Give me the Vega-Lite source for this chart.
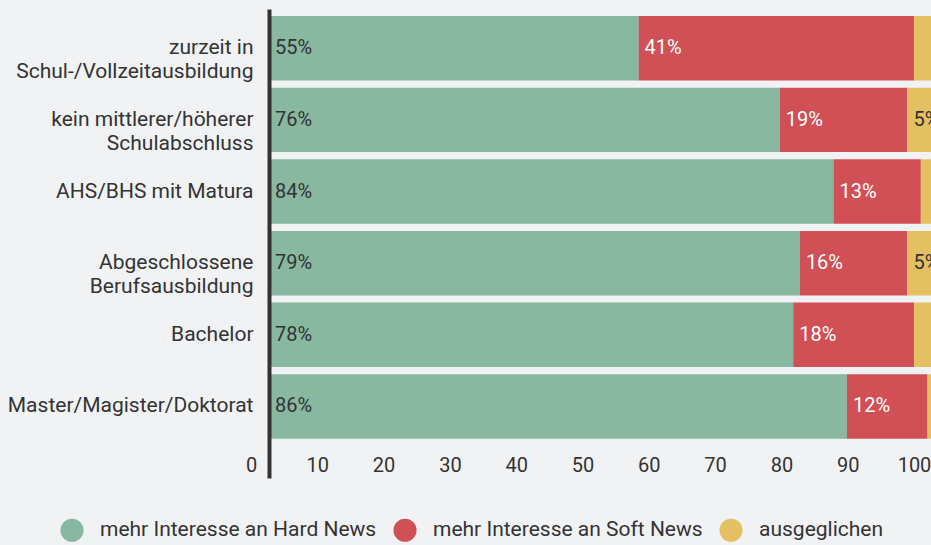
{
  "$schema": "https://vega.github.io/schema/vega-lite/v6.json",
  "width": 662,
  "height": 469,
  "autosize": "none",
  "padding": {"left": 269, "top": 9, "right": 0, "bottom": 67},
  "background": "#f1f2f4",
  "config": {"view": {"stroke": null}, "font": "Roboto"},
  "data": {
    "values": [
      {"cat": "zurzeit in\nSchul-/Vollzeitausbildung", "series": "mehr Interesse an Hard News", "ord": 1, "value": 55},
      {"cat": "zurzeit in\nSchul-/Vollzeitausbildung", "series": "mehr Interesse an Soft News", "ord": 2, "value": 41},
      {"cat": "zurzeit in\nSchul-/Vollzeitausbildung", "series": "ausgeglichen", "ord": 3, "value": 4},
      {"cat": "kein mittlerer/höherer\nSchulabschluss", "series": "mehr Interesse an Hard News", "ord": 1, "value": 76},
      {"cat": "kein mittlerer/höherer\nSchulabschluss", "series": "mehr Interesse an Soft News", "ord": 2, "value": 19},
      {"cat": "kein mittlerer/höherer\nSchulabschluss", "series": "ausgeglichen", "ord": 3, "value": 5},
      {"cat": "AHS/BHS mit Matura", "series": "mehr Interesse an Hard News", "ord": 1, "value": 84},
      {"cat": "AHS/BHS mit Matura", "series": "mehr Interesse an Soft News", "ord": 2, "value": 13},
      {"cat": "AHS/BHS mit Matura", "series": "ausgeglichen", "ord": 3, "value": 3},
      {"cat": "Abgeschlossene\nBerufsausbildung", "series": "mehr Interesse an Hard News", "ord": 1, "value": 79},
      {"cat": "Abgeschlossene\nBerufsausbildung", "series": "mehr Interesse an Soft News", "ord": 2, "value": 16},
      {"cat": "Abgeschlossene\nBerufsausbildung", "series": "ausgeglichen", "ord": 3, "value": 5},
      {"cat": "Bachelor", "series": "mehr Interesse an Hard News", "ord": 1, "value": 78},
      {"cat": "Bachelor", "series": "mehr Interesse an Soft News", "ord": 2, "value": 18},
      {"cat": "Bachelor", "series": "ausgeglichen", "ord": 3, "value": 4},
      {"cat": "Master/Magister/Doktorat", "series": "mehr Interesse an Hard News", "ord": 1, "value": 86},
      {"cat": "Master/Magister/Doktorat", "series": "mehr Interesse an Soft News", "ord": 2, "value": 12},
      {"cat": "Master/Magister/Doktorat", "series": "ausgeglichen", "ord": 3, "value": 2}
    ]
  },
  "layer": [
    {
      "encoding": {
        "y": {
          "field": "cat",
          "type": "nominal",
          "sort": null,
          "scale": {"paddingInner": 0.1, "paddingOuter": 0.323, "align": 0.151},
          "axis": {
            "title": null,
            "ticks": false,
            "tickSize": 0,
            "labelPadding": 16,
            "labelFontSize": 21,
            "labelColor": "#333333",
            "labelLineHeight": 24,
            "labelLimit": 400,
            "labelExpr": "split(datum.label, '\\n')",
            "domainColor": "#333333",
            "domainWidth": 4,
            "zindex": 2
          }
        }
      },
      "layer": [
        {
          "mark": {"type": "bar", "clip": true},
          "encoding": {
            "x": {
              "field": "value",
              "type": "quantitative",
              "stack": "zero",
              "scale": {"domain": [0, 100], "range": [0, 672]},
              "axis": null
            },
            "order": {"field": "ord", "type": "quantitative"},
            "color": {
              "field": "series",
              "type": "nominal",
              "scale": {
                "domain": ["mehr Interesse an Hard News", "mehr Interesse an Soft News", "ausgeglichen"],
                "range": ["#88b8a0", "#d05055", "#e4c062"]
              },
              "legend": {
                "title": null,
                "orient": "none",
                "direction": "horizontal",
                "columns": 3,
                "legendX": -209,
                "legendY": 509,
                "padding": 0,
                "symbolType": "circle",
                "symbolSize": 531,
                "symbolStrokeWidth": 0,
                "symbolOpacity": 1,
                "labelFontSize": 21,
                "labelColor": "#333333",
                "labelOffset": 16,
                "columnPadding": 16,
                "labelLimit": 400
              }
            }
          }
        },
        {
          "transform": [
            {"stack": "value", "groupby": ["cat"], "sort": [{"field": "ord"}], "as": ["x0", "x1"]},
            {"filter": "datum.value >= 5"}
          ],
          "mark": {
            "type": "text",
            "align": "left",
            "baseline": "middle",
            "dx": 6,
            "fontSize": 20,
            "text": {"expr": "datum.value + '%'"}
          },
          "encoding": {
            "x": {
              "field": "x0",
              "type": "quantitative",
              "scale": {"domain": [0, 100], "range": [0, 672]},
              "axis": null
            },
            "color": {
              "condition": {"test": "datum.series === 'mehr Interesse an Soft News'", "value": "#ffffff"},
              "value": "#333333"
            }
          }
        }
      ]
    },
    {
      "mark": {"type": "point", "opacity": 0},
      "encoding": {
        "x": {
          "field": "value",
          "type": "quantitative",
          "scale": {"domain": [0, 100], "range": [-18, 645]},
          "axis": {
            "title": null,
            "values": [0, 10, 20, 30, 40, 50, 60, 70, 80, 90, 100],
            "domain": false,
            "ticks": false,
            "tickSize": 0,
            "grid": false,
            "labelPadding": 0,
            "offset": -13,
            "labelBaseline": "middle",
            "labelFontSize": 20,
            "labelColor": "#333333",
            "labelFlush": false,
            "labelOverlap": false
          }
        }
      }
    }
  ],
  "resolve": {"scale": {"x": "independent"}}
}
